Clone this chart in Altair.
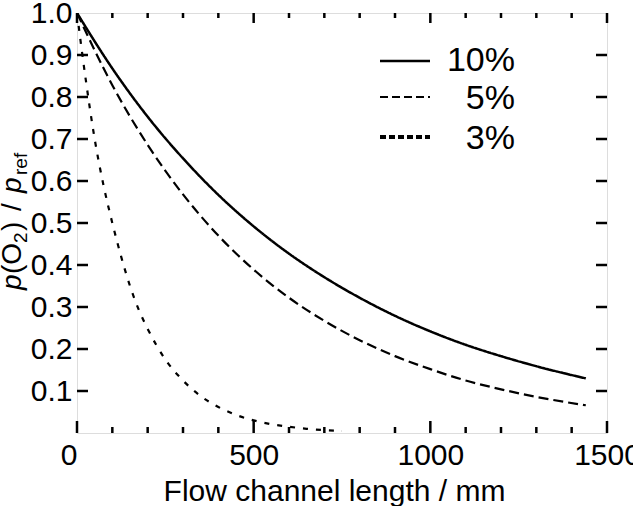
import altair as alt
import pandas as pd

# ---- data ----
x10 = [0, 100, 200, 300, 400, 500, 600, 700, 800, 900, 1000, 1100, 1200, 1300, 1440]
y10 = [1.0, 0.868, 0.753, 0.654, 0.567, 0.492, 0.427, 0.371, 0.322, 0.279, 0.242, 0.210, 0.183, 0.159, 0.130]

x5 = [0, 100, 200, 300, 400, 500, 600, 700, 800, 900, 1000, 1100, 1200, 1300, 1440]
y5 = [1.0, 0.828, 0.686, 0.568, 0.470, 0.389, 0.322, 0.267, 0.221, 0.183, 0.152, 0.125, 0.104, 0.086, 0.066]

x3 = [0, 25, 50, 75, 100, 125, 150, 175, 200, 250, 300, 350, 400, 450, 500, 550, 600, 650, 700, 750]
y3 = [1.0, 0.84, 0.70, 0.59, 0.50, 0.42, 0.35, 0.293, 0.248, 0.175, 0.125, 0.088, 0.062, 0.043, 0.030, 0.021, 0.015, 0.010, 0.007, 0.005]

series_names = ["10%", "5%", "3%"]
x_major = [0, 500, 1000, 1500]
x_minor = [100, 200, 300, 400, 600, 700, 800, 900, 1100, 1200, 1300, 1400]
y_ticks = [0.1, 0.2, 0.3, 0.4, 0.5, 0.6, 0.7, 0.8, 0.9]

FONT = "Liberation Sans"
W, H = 530, 420

xs = alt.Scale(domain=[0, 1500], nice=False, zero=False)
ys = alt.Scale(domain=[0, 1], nice=False)

df = pd.concat([
    pd.DataFrame({"x": x10, "y": y10, "s": series_names[0]}),
    pd.DataFrame({"x": x5, "y": y5, "s": series_names[1]}),
    pd.DataFrame({"x": x3, "y": y3, "s": series_names[2]}),
])

dash_styles = {"10%": [1, 0], "5%": [10, 5], "3%": [5, 8]}
widths = {"10%": 2.5, "5%": 2.2, "3%": 2.2}

base_axes = alt.Chart(pd.DataFrame({"x": [0], "y": [0]})).mark_point(opacity=0).encode(
    x=alt.X("x:Q", scale=xs, axis=alt.Axis(
        values=x_major, format="d", ticks=False, domain=False, grid=False,
        labelFontSize=30, labelFont=FONT, labelColor="black", labelPadding=7,
        labelAlign={"condition": {"test": "datum.value === 0", "value": "right"}, "value": "center"},
        title="Flow channel length / mm", titleFontSize=30, titleFont=FONT,
        titleFontWeight="normal", titleColor="black", titleX=257, titleY=67,
        titleBaseline="alphabetic", titleAlign="center")),
    y=alt.Y("y:Q", scale=ys, axis=alt.Axis(
        values=y_ticks + [1.0], format=".1f", ticks=False, domain=False, grid=False,
        labelFontSize=30, labelFont=FONT, labelColor="black", labelPadding=5,
        title=None)),
)

layers = [base_axes]

for name in series_names:
    d = df[df["s"] == name]
    layers.append(
        alt.Chart(d).mark_line(color="black", strokeWidth=widths[name],
                               strokeDash=dash_styles[name], interpolate="monotone",
                               clip=True).encode(
            x=alt.X("x:Q", scale=xs), y=alt.Y("y:Q", scale=ys))
    )

# inward ticks (all four sides)
def xticks(vals, length, top):
    d = pd.DataFrame({"x": vals})
    if top:
        yy, yy2 = 0, length
    else:
        yy, yy2 = H, H - length
    return alt.Chart(d).mark_rule(color="black", strokeWidth=2.5).encode(
        x=alt.X("x:Q", scale=xs), y=alt.value(yy), y2=alt.value(yy2))

def yticks(vals, length, right):
    d = pd.DataFrame({"y": vals})
    if right:
        xx, xx2 = W, W - length
    else:
        xx, xx2 = 0, length
    return alt.Chart(d).mark_rule(color="black", strokeWidth=2.5).encode(
        y=alt.Y("y:Q", scale=ys), x=alt.value(xx), x2=alt.value(xx2))

layers += [
    xticks(x_minor, 6, False), xticks(x_major, 12, False),
    xticks(x_minor, 5, True), xticks(x_major, 10, True),
    yticks(y_ticks, 11, False), yticks(y_ticks, 11, True),
]

# legend (drawn by hand)
leg_rows_y = [48, 84, 124]
leg_text_y = [48, 86, 126]
leg_dash = [[1, 0], [8, 4], [6, 3]]
leg_w = [2.5, 2.2, 4.0]
for i, name in enumerate(series_names):
    layers.append(
        alt.Chart(pd.DataFrame({"s": [name]})).mark_rule(
            color="black", strokeWidth=leg_w[i], strokeDash=leg_dash[i]).encode(
            x=alt.value(303), x2=alt.value(353), y=alt.value(leg_rows_y[i]))
    )
    layers.append(
        alt.Chart(pd.DataFrame({"s": [name]})).mark_text(
            align="right", baseline="middle", fontSize=34, font=FONT, color="black").encode(
            text="s:N", x=alt.value(438), y=alt.value(leg_text_y[i]))
    )

# y-axis title: p(O2) / p_ref, built from pieces, rotated
title_pieces = [
    ("p", 28, "italic", 277, -56),
    ("(O", 28, "normal", 261, -56),
    ("2", 19, "normal", 230, -50),
    (")", 28, "normal", 218, -56),
    ("/", 28, "normal", 198, -56),
    ("p", 28, "italic", 180, -56),
    ("ref", 19, "normal", 162, -50),
]
for txt, fs, style, yy, xx in title_pieces:
    layers.append(
        alt.Chart(pd.DataFrame({"t": [txt]})).mark_text(
            align="left", baseline="alphabetic", angle=270, fontSize=fs,
            fontStyle=style, font=FONT, color="black").encode(
            text="t:N", x=alt.value(xx), y=alt.value(yy))
    )

chart = alt.layer(*layers).properties(
    width=W, height=H,
    autosize=alt.AutoSizeParams(type="none"),
    padding={"left": 77, "top": 13, "right": 26, "bottom": 73},
).configure_view(stroke="black", strokeWidth=3).configure(background="white")

chart.save("out.html", embed_options={"renderer": "svg", "actions": False})
